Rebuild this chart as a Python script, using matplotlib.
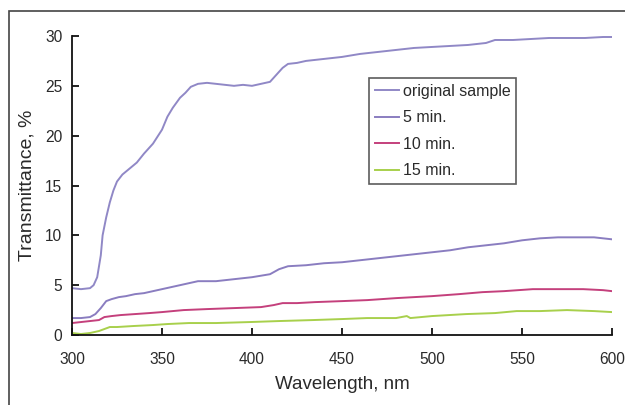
import matplotlib
matplotlib.use("Agg")
import matplotlib.pyplot as plt
from matplotlib.patches import Rectangle

plt.rcParams['font.family'] = ['Liberation Sans', 'DejaVu Sans']

wl_orig = [300, 305, 310, 312, 314, 316, 317, 319, 321, 323, 325, 328, 332, 336, 340, 345, 350, 353,
           356, 360, 363, 366, 370, 375, 380, 385, 390, 395, 400, 405, 410, 413, 417, 420, 425, 430,
           440, 450, 460, 470, 480, 490, 500, 510, 520, 530, 535, 545, 555, 565, 575, 585, 595, 600]
t_orig = [4.7, 4.6, 4.7, 5.0, 5.8, 8.0, 10.0, 11.8, 13.3, 14.5, 15.4, 16.1, 16.7, 17.3, 18.2, 19.2, 20.6, 21.9,
          22.8, 23.8, 24.3, 24.9, 25.2, 25.3, 25.2, 25.1, 25.0, 25.1, 25.0, 25.2, 25.4, 26.0, 26.8, 27.2, 27.3, 27.5,
          27.7, 27.9, 28.2, 28.4, 28.6, 28.8, 28.9, 29.0, 29.1, 29.3, 29.6, 29.6, 29.7, 29.8, 29.8, 29.8, 29.9, 29.9]

wl_5 = [300, 305, 310, 313, 316, 319, 322, 326, 330, 335, 340, 345, 350, 355, 360, 365, 370, 380, 390, 400,
        410, 415, 420, 430, 440, 450, 460, 470, 480, 490, 500, 510, 520, 530, 540, 550, 560, 570, 580, 590, 600]
t_5 = [1.7, 1.7, 1.8, 2.1, 2.7, 3.4, 3.6, 3.8, 3.9, 4.1, 4.2, 4.4, 4.6, 4.8, 5.0, 5.2, 5.4, 5.4, 5.6, 5.8,
       6.1, 6.6, 6.9, 7.0, 7.2, 7.3, 7.5, 7.7, 7.9, 8.1, 8.3, 8.5, 8.8, 9.0, 9.2, 9.5, 9.7, 9.8, 9.8, 9.8, 9.6]

wl_10 = [300, 305, 310, 315, 318, 322, 327, 335, 343, 350, 362, 375, 390, 405, 412, 417, 425, 435, 450,
         464, 480, 500, 515, 528, 540, 556, 570, 584, 595, 600]
t_10 = [1.2, 1.3, 1.4, 1.5, 1.8, 1.9, 2.0, 2.1, 2.2, 2.3, 2.5, 2.6, 2.7, 2.8, 3.0, 3.2, 3.2, 3.3, 3.4,
        3.5, 3.7, 3.9, 4.1, 4.3, 4.4, 4.6, 4.6, 4.6, 4.5, 4.4]

wl_15 = [300, 305, 310, 315, 318, 321, 325, 334, 345, 353, 365, 380, 399, 415, 434, 450, 464, 480, 486,
         488, 500, 519, 535, 547, 560, 575, 590, 600]
t_15 = [0.2, 0.1, 0.2, 0.4, 0.6, 0.8, 0.8, 0.9, 1.0, 1.1, 1.2, 1.2, 1.3, 1.4, 1.5, 1.6, 1.7, 1.7, 1.9,
        1.7, 1.9, 2.1, 2.2, 2.4, 2.4, 2.5, 2.4, 2.3]

labels = ["original sample", "5 min.", "10 min.", "15 min."]
colors = ["#9088c6", "#8a7dc0", "#c4407c", "#a8d04c"]
x_ticks = [300, 350, 400, 450, 500, 550, 600]
y_ticks = [0, 5, 10, 15, 20, 25, 30]

fig = plt.figure(figsize=(6.25, 4.05), dpi=100)
ax = fig.add_axes([72/625, 1-335/405, 540/625, 299/405])

series = [(wl_orig, t_orig), (wl_5, t_5), (wl_10, t_10), (wl_15, t_15)]
for (x, y), lab, c in zip(series, labels, colors):
    ax.plot(x, y, color=c, lw=1.4, label=lab)

ax.set_xlim(300, 600)
ax.set_ylim(0, 30)
ax.set_xticks(x_ticks)
ax.set_yticks(y_ticks)
for s in ['top', 'right']:
    ax.spines[s].set_visible(False)
for s in ['left', 'bottom']:
    ax.spines[s].set_linewidth(1.3)
    ax.spines[s].set_color('#111111')
ax.tick_params(direction='in', length=5, width=1.3, labelsize=11.2, colors='#111111', labelcolor='#2a2a2a')
ax.tick_params(axis='x', pad=12)
ax.tick_params(axis='y', pad=7)
ax.set_xlabel("Wavelength, nm", fontsize=13.5, color='#2a2a2a', labelpad=7)
ax.set_ylabel("Transmittance, %", fontsize=14, color='#2a2a2a', labelpad=6.5)
for lbl in ax.get_xticklabels():
    lbl.set_clip_on(False)

leg = ax.legend(loc='upper left', bbox_to_anchor=((369-72)/540, (335-78)/299), borderaxespad=0,
                fontsize=11.5, frameon=True, fancybox=False, handlelength=1.5, handletextpad=0.25,
                labelspacing=0.72, borderpad=0.35)
leg.get_frame().set_edgecolor('#333333')
leg.get_frame().set_linewidth(1.2)
for t in leg.get_texts():
    t.set_color('#2a2a2a')

fig.patches.append(Rectangle((9/625, -0.1), 1.2, 1 - 11/405 + 0.1, transform=fig.transFigure,
                             fill=False, edgecolor='#444444', lw=1.2))

fig.savefig("out.png", dpi=100)
